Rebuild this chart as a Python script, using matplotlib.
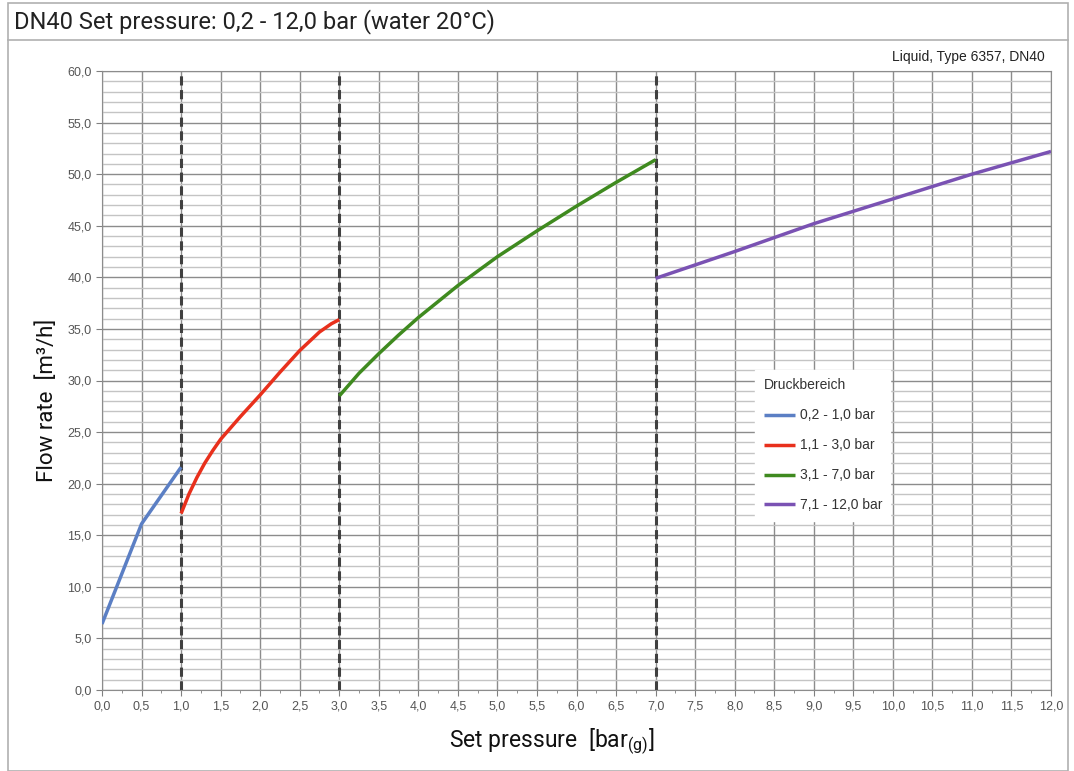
import matplotlib
matplotlib.use("Agg")
import matplotlib.pyplot as plt
from matplotlib.ticker import MultipleLocator, FuncFormatter
from matplotlib.lines import Line2D
from matplotlib.patches import Rectangle

plt.rcParams['font.family'] = ['Roboto', 'DejaVu Sans']
plt.rcParams['mathtext.fontset'] = 'custom'
plt.rcParams['mathtext.rm'] = 'Roboto'

# data
p1 = [0.0, 0.5, 1.0]
q1 = [6.4, 16.1, 21.6]
p2 = [1.0, 1.1, 1.2, 1.3, 1.4, 1.5, 1.75, 2.0, 2.25, 2.5, 2.75, 2.9, 3.0]
q2 = [17.1, 19.0, 20.6, 22.0, 23.2, 24.3, 26.5, 28.6, 30.8, 32.9, 34.7, 35.5, 35.9]
p3 = [3.0, 3.25, 3.5, 3.75, 4.0, 4.5, 5.0, 5.5, 6.0, 6.5, 7.0]
q3 = [28.5, 30.7, 32.6, 34.4, 36.1, 39.2, 42.0, 44.5, 46.9, 49.2, 51.4]
p4 = [7.0, 8.0, 9.0, 10.0, 11.0, 12.0]
q4 = [39.9, 42.5, 45.2, 47.6, 50.0, 52.2]
labels = ["0,2 - 1,0 bar", "1,1 - 3,0 bar", "3,1 - 7,0 bar", "7,1 - 12,0 bar"]
colors = ["#5b7fc4", "#e8301c", "#3f8a1f", "#7a52b3"]
limits = [1.0, 3.0, 7.0]

chart_font = ['Liberation Sans', 'DejaVu Sans']

fig = plt.figure(figsize=(10.74, 7.71), dpi=100)
ax = fig.add_axes([102 / 1074, 1 - 690 / 771, (1051 - 102) / 1074, (690 - 71) / 771])

# frame and title bar
fig.patches.append(Rectangle((8 / 1074, 0.0), 1060 / 1074, 1 - 3 / 771, transform=fig.transFigure,
                             fill=False, edgecolor="#b0b0b0", lw=1.2))
fig.lines.append(Line2D([8 / 1074, 1068 / 1074], [1 - 40 / 771] * 2, transform=fig.transFigure,
                        color="#b0b0b0", lw=1.2))
fig.text(14 / 1074, 1 - 22 / 771, "DN40 Set pressure: 0,2 - 12,0 bar (water 20°C)",
         fontsize=17, va="center", ha="left", color="#222222")
fig.text(1045 / 1074, 1 - 57 / 771, "Liquid, Type 6357, DN40", fontsize=10,
         ha="right", va="center", color="#222222", family=chart_font)

ax.set_xlim(0, 12)
ax.set_ylim(0, 60)
ax.xaxis.set_major_locator(MultipleLocator(0.5))
ax.xaxis.set_minor_locator(MultipleLocator(0.25))
ax.yaxis.set_major_locator(MultipleLocator(5))
ax.yaxis.set_minor_locator(MultipleLocator(1))
fmt = FuncFormatter(lambda v, pos: f"{v:.1f}".replace(".", ","))
ax.xaxis.set_major_formatter(fmt)
ax.yaxis.set_major_formatter(fmt)

ax.grid(which="major", axis="x", color="#8c8c8c", lw=1.0)
ax.grid(which="major", axis="y", color="#8c8c8c", lw=1.0)
ax.grid(which="minor", axis="y", color="#c4c4c4", lw=1.0)
ax.set_axisbelow(True)
ax.tick_params(which="major", length=4, color="#808080", labelsize=9, labelcolor="#555555")
ax.tick_params(which="minor", axis="x", length=2, color="#808080")
ax.tick_params(which="minor", axis="y", length=0)
for t in ax.get_xticklabels() + ax.get_yticklabels():
    t.set_family(chart_font)
for s in ax.spines.values():
    s.set_color("#8c8c8c")

for x in limits:
    ax.axvline(x, color="#404040", lw=2.2, ls=(0, (3, 1.5)), zorder=2)

for p, q, c, lab in zip([p1, p2, p3, p4], [q1, q2, q3, q4], colors, labels):
    ax.plot(p, q, color=c, lw=2.5, label=lab, zorder=3, solid_capstyle="butt")

leg = ax.legend(title="Druckbereich", loc="upper left", bbox_to_anchor=(0.681, 0.528),
                frameon=True, fancybox=False, prop={'family': chart_font, 'size': 10},
                title_fontproperties={'family': chart_font, 'size': 10},
                handlelength=2.3, labelspacing=1.15, borderpad=0.6, handletextpad=0.3)
leg.get_frame().set_edgecolor("white")
leg.get_frame().set_alpha(1)
leg._legend_box.align = "left"
for t in leg.get_texts():
    t.set_color("#333333")
leg.get_title().set_color("#333333")

ax.set_ylabel("Flow rate  [m³/h]", fontsize=16, color="#111111")
ax.yaxis.set_label_coords(-0.046, 0.468)
ax.set_xlabel("Set pressure  [bar$_{\\mathrm{(g)}}$]", fontsize=16.5, color="#111111")
ax.xaxis.set_label_coords((552 - 102) / 949, -0.059)

fig.savefig("out.png", dpi=100)
